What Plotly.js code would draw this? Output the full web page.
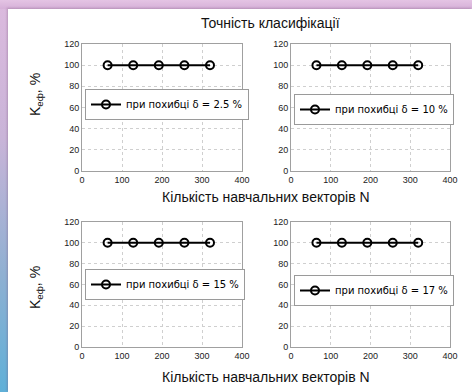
<!DOCTYPE html>
<html>
<head>
<meta charset="utf-8">
<script src="https://cdn.plot.ly/plotly-3.0.1.min.js"></script>
<style>
  html, body { margin: 0; padding: 0; width: 472px; height: 392px; overflow: hidden; }
  body { background: linear-gradient(to bottom, #dcbade 0%, #c9b4d8 35%, #8fb0d2 70%, #5fb0d8 100%); position: relative; }
  #topband { position: absolute; left: 0; top: 0; width: 472px; height: 9px;
             background: linear-gradient(to bottom, #e4c4e4, #d6b0d8); }
  #chart { position: absolute; left: 8px; top: 9px; width: 464px; height: 383px; background: #fff;
           box-shadow: -1px -1px 2px rgba(120,80,120,0.35); }
</style>
</head>
<body>
<div id="topband"></div>
<div id="chart"></div>
<script>
// Number of training vectors N
const trainSizes = [64, 128, 192, 256, 320];
// Classification accuracy K_еф (%) for each error level δ
const acc_2_5 = [100, 100, 100, 100, 100];
const acc_10  = [100, 100, 100, 100, 100];
const acc_15  = [100, 100, 100, 100, 100];
const acc_17  = [100, 100, 100, 100, 100];
const deltaLabels = ['2.5', '10', '15', '17'];
const xTicks = [0, 100, 200, 300, 400];
const yTicks = [0, 20, 40, 60, 80, 100, 120];

const W = 464, H = 383, OX = 8, OY = 9;
// convert page pixel coordinates into paper fractions of the chart div
const px = X => (X - OX) / W;
const py = Y => 1 - (Y - OY) / H;

const series = [acc_2_5, acc_10, acc_15, acc_17];
const suffix = ['', '2', '3', '4'];
const legendPos = [[85, 89], [294, 94], [85, 269], [294, 275]];

const traces = series.map((vals, i) => ({
  x: trainSizes, y: vals,
  type: 'scatter', mode: 'lines+markers',
  name: 'при похибці δ = ' + deltaLabels[i] + ' %',
  xaxis: 'x' + suffix[i], yaxis: 'y' + suffix[i],
  legend: 'legend' + suffix[i],
  showlegend: true,
  line: { color: '#000', width: 2 },
  marker: { symbol: 'circle-open', size: 8, color: '#000', line: { width: 2, color: '#000' } }
}));

const tickFont = { family: 'Liberation Sans, Arial, sans-serif', size: 9, color: '#222' };

function xAxis(domain) {
  return {
    domain: domain, range: [0, 400], tickvals: xTicks, ticktext: xTicks.map(String),
    showgrid: true, gridcolor: '#cfcfcf', griddash: 'dot', gridwidth: 1,
    showline: true, linecolor: '#a0a0a0', linewidth: 1, mirror: true,
    zeroline: false, ticks: '', tickfont: tickFont, fixedrange: true
  };
}
function yAxis(domain, anchor) {
  return {
    domain: domain, range: [0, 120], tickvals: yTicks, ticktext: yTicks.map(String),
    showgrid: true, gridcolor: '#cfcfcf', griddash: 'dot', gridwidth: 1,
    showline: true, linecolor: '#a0a0a0', linewidth: 1, mirror: true,
    zeroline: false, ticks: '', tickfont: tickFont, anchor: anchor, fixedrange: true
  };
}
function legend(p) {
  return {
    x: px(p[0]), y: py(p[1]), xanchor: 'left', yanchor: 'top',
    bgcolor: '#fff', bordercolor: '#9a9a9a', borderwidth: 1,
    font: { family: 'DejaVu Sans, sans-serif', size: 10, color: '#000' },
    itemwidth: 30, tracegroupgap: 0
  };
}

const colL = [px(82), px(242)], colR = [px(291), px(450)];
const rowT = [py(171), py(44)], rowB = [py(347), py(222)];

const titleFont = { family: 'Liberation Sans, Arial, sans-serif', size: 14, color: '#111' };

function label(text, X, Y, angle) {
  return { text: text, x: px(X), y: py(Y), xref: 'paper', yref: 'paper',
           xanchor: 'center', yanchor: 'middle', textangle: angle || 0,
           showarrow: false, font: titleFont };
}

const layout = {
  width: W, height: H,
  margin: { l: 0, r: 0, t: 0, b: 0 },
  paper_bgcolor: '#fff', plot_bgcolor: '#fff',
  xaxis: Object.assign(xAxis(colL), { anchor: 'y' }),
  yaxis: yAxis(rowT, 'x'),
  xaxis2: Object.assign(xAxis(colR), { anchor: 'y2' }),
  yaxis2: yAxis(rowT, 'x2'),
  xaxis3: Object.assign(xAxis(colL), { anchor: 'y3' }),
  yaxis3: yAxis(rowB, 'x3'),
  xaxis4: Object.assign(xAxis(colR), { anchor: 'y4' }),
  yaxis4: yAxis(rowB, 'x4'),
  legend: legend(legendPos[0]),
  legend2: legend(legendPos[1]),
  legend3: legend(legendPos[2]),
  legend4: legend(legendPos[3]),
  annotations: [
    label('Точність класифікації', 270, 23),
    label('Кількість навчальних векторів N', 266, 197),
    label('Кількість навчальних векторів N', 266, 377),
    label('K<sub>еф</sub>, %', 36, 95, -90),
    label('K<sub>еф</sub>, %', 36, 288, -90)
  ]
};

Plotly.newPlot('chart', traces, layout, { displayModeBar: false, staticPlot: true });
</script>
</body>
</html>
